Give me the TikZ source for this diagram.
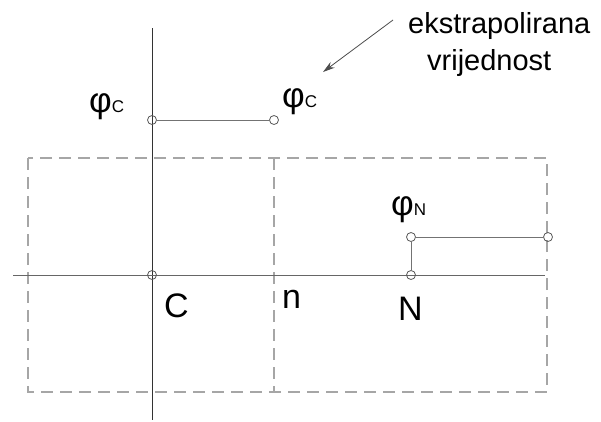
\documentclass[tikz,border=0pt]{standalone}
\usepackage{fontspec}
\setmainfont{Liberation Sans}
\usetikzlibrary{arrows.meta}
\newcommand{\phisym}[1]{{\fontsize{35}{35}\selectfont φ}{\fontsize{17}{17}\selectfont #1}}
\begin{document}
\begin{tikzpicture}[x=1pt,y=-1pt,
  pt/.style={circle,draw=black!65,line width=0.8pt,minimum size=9pt,inner sep=0pt},
  axis/.style={draw=black!60,line width=1pt},
  vaxis/.style={draw=black!80,line width=1pt},
  cell/.style={draw=black!35,line width=1.1pt,dash pattern=on 12pt off 7pt},
  conn/.style={draw=black!55,line width=0.9pt},
  lbl/.style={inner sep=0pt,anchor=base west,font=\fontsize{34}{34}\selectfont},
  txt/.style={inner sep=0pt,anchor=base west,font=\fontsize{29}{29}\selectfont}]
\useasboundingbox (0,0) rectangle (601,421);
% dashed cells
\draw[cell] (28,158) rectangle (547,392);
\draw[cell] (274,158) -- (274,392);
% axes
\coordinate (vt) at (152,28);
\coordinate (vb) at (152,420);
\coordinate (hl) at (13,275);
\coordinate (hr) at (545,275);
\draw[vaxis] (vt) -- (vb);
\draw[axis] (hl) -- (hr);
% points
\node[pt] (C) at (152,275) {};
\node[pt] (Cv) at (152,120) {};
\node[pt] (ext) at (274,120) {};
\node[pt] (N) at (411,275) {};
\node[pt] (Nv) at (411,237) {};
\node[pt] (Nf) at (548,237) {};
\draw[conn] (Cv) -- (ext);
\draw[conn] (N) -- (Nv);
\draw[conn] (Nv) -- (Nf);
% labels
\node[lbl] (lphiC) at (89,112) {\phisym{C}};
\node[lbl] (lphiC2) at (282,107) {\phisym{C}};
\node[lbl] (lphiN) at (391,215) {\phisym{N}};
\node[lbl] (lC) at (164,317) {C};
\node[lbl] (ln) at (282,308) {n};
\node[lbl] (lN) at (398,320) {N};
% annotation
\node[txt] (t1) at (408,33) {ekstrapolirana};
\node[txt] (t2) at (427,70) {vrijednost};
\coordinate (as) at (393,20);
\coordinate (ae) at (323,72);
\draw[draw=black!70,line width=0.8pt,-{Stealth[length=12pt,width=7pt]}] (as) -- (ae);
\end{tikzpicture}
\end{document}
